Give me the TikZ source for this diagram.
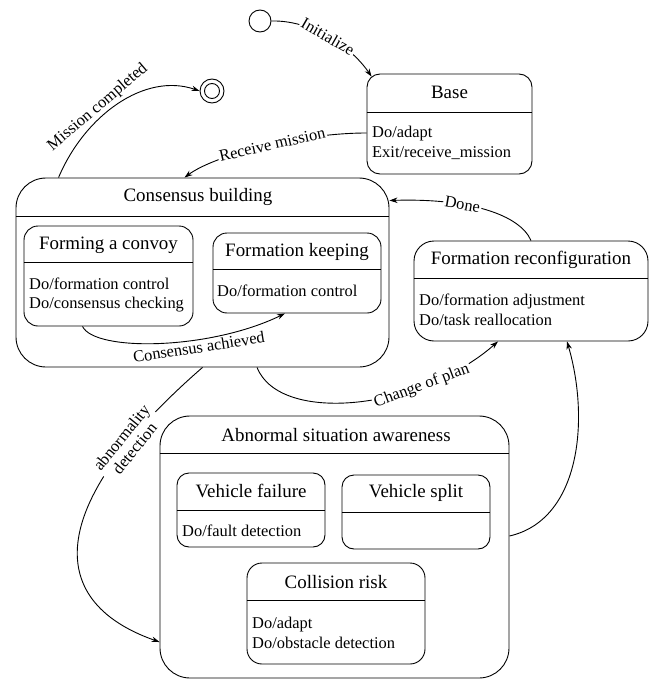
\documentclass[tikz,border=0pt]{standalone}
\usepackage{fontspec}
\setmainfont{Liberation Serif}
\usetikzlibrary{positioning,arrows.meta,fit,calc}
\tikzset{
  statebox/.style={draw, line width=0.9bp, inner sep=0pt},
  statediv/.style={line width=0.9bp},
  statetitle/.style={font=\fontsize{19}{22}\selectfont, inner sep=0pt},
  statebody/.style={font=\fontsize{16.5}{20}\selectfont, align=left, anchor=west, inner sep=0pt},
  pseudostate/.style={circle, draw, line width=0.9bp, inner sep=0pt},
  transition/.style={-{Stealth[length=8bp,width=5.5bp]}, line width=0.9bp},
  translabel/.style={font=\fontsize{16.5}{17}\selectfont, fill=white, inner sep=1.5bp, sloped},
}

\begin{document}
\begin{tikzpicture}[x=1bp, y=-1bp]
  \useasboundingbox (0,0) rectangle (653,679);

  % pseudo states
  \node[pseudostate, minimum size=22bp] (init) at (260,21) {};
  \node[pseudostate, minimum size=24bp] (final) at (212,91) {};
  \node[pseudostate, minimum size=15bp] (finalin) at (final) {};

  % Base
  \node[statebox, rounded corners=13bp, fit={(367,74) (532,174)}] (base) {};
  \draw[statediv] (base.west |- 0,112) -- (base.east |- 0,112);
  \node[statetitle] (basetitle) at (449.5,92) {Base};
  \node[statebody] (basebody) at (372,143) {Do/adapt\\Exit/receive\_mission};

  % Consensus building and its sub states
  \node[statebox, rounded corners=30bp, fit={(16,178) (389,367)}] (cb) {};
  \draw[statediv] (cb.west |- 0,216) -- (cb.east |- 0,216);
  \node[statetitle] (cbtitle) at (198,197) {Consensus building};

  \node[statebox, rounded corners=14bp, fit={(24,226) (193,326)}] (fc) {};
  \draw[statediv] (fc.west |- 0,262) -- (fc.east |- 0,262);
  \node[statetitle] (fctitle) at (108.5,245) {Forming a convoy};
  \node[statebody] (fcbody) at (29,295) {Do/formation control\\Do/consensus checking};

  \node[statebox, rounded corners=14bp, fit={(213,233) (381,313)}] (fk) {};
  \draw[statediv] (fk.west |- 0,269) -- (fk.east |- 0,269);
  \node[statetitle] (fktitle) at (297,252) {Formation keeping};
  \node[statebody] (fkbody) at (217,291) {Do/formation control};

  % Formation reconfiguration
  \node[statebox, rounded corners=20bp, fit={(414,241) (648,341)}] (fr) {};
  \draw[statediv] (fr.west |- 0,278) -- (fr.east |- 0,278);
  \node[statetitle] (frtitle) at (531,260) {Formation reconfiguration};
  \node[statebody] (frbody) at (419,310) {Do/formation adjustment\\Do/task reallocation};

  % Abnormal situation awareness and its sub states
  \node[statebox, rounded corners=30bp, fit={(160,416) (509,678)}] (ab) {};
  \draw[statediv] (ab.west |- 0,453) -- (ab.east |- 0,453);
  \node[statetitle] (abtitle) at (336,435) {Abnormal situation awareness};

  \node[statebox, rounded corners=12bp, fit={(177,473) (325,547)}] (vf) {};
  \draw[statediv] (vf.west |- 0,510) -- (vf.east |- 0,510);
  \node[statetitle] (vftitle) at (251,491) {Vehicle failure};
  \node[statebody] (vfbody) at (182,531) {Do/fault detection};

  \node[statebox, rounded corners=12bp, fit={(342,475) (490,549)}] (vs) {};
  \draw[statediv] (vs.west |- 0,512) -- (vs.east |- 0,512);
  \node[statetitle] (vstitle) at (416,493) {Vehicle split};

  \node[statebox, rounded corners=15bp, fit={(247,563) (425,664)}] (cr) {};
  \draw[statediv] (cr.west |- 0,600) -- (cr.east |- 0,600);
  \node[statetitle] (crtitle) at (336,582) {Collision risk};
  \node[statebody] (crbody) at (252,633) {Do/adapt\\Do/obstacle detection};

  % transitions
  \draw[transition] (init.east) .. controls (310,20) and (350,45) .. ([xshift=5bp,yshift=-3bp]base.north west)
    node[translabel, pos=0.5] {Initialize};
  \draw[transition] ([yshift=-9bp]base.west) .. controls (300,133) and (215,155) .. ([xshift=-18bp]cb.north)
    node[translabel, pos=0.45] {Receive mission};
  \draw[transition] ([xshift=43bp]cb.north west) .. controls (85,115) and (145,72) .. (final.west)
    node[translabel, fill=none, pos=0.4, above] {Mission completed};
  \draw[transition] (fr.north) .. controls (520,215) and (470,198) .. ([yshift=72bp]cb.east)
    node[translabel, pos=0.65] {Done};
  \draw[transition] ([xshift=-26bp]fc.south) .. controls (95,352) and (210,350) .. ([xshift=-12bp]fk.south)
    node[translabel, fill=none, pos=0.65, below] {Consensus achieved};
  \draw[transition] ([xshift=54.5bp]cb.south) .. controls (280,425) and (420,410) .. ([xshift=-33bp]fr.south)
    node[translabel, pos=0.72] {Change of plan};
  \draw[transition] (cb.south) .. controls (50,500) and (40,600) .. ([yshift=-95bp]ab.west)
    node[translabel, align=center, pos=0.2] {abnormality\\detection};
  \draw[transition] ([yshift=11bp]ab.east) .. controls (580,520) and (590,420) .. ([xshift=36bp]fr.south);
\end{tikzpicture}
\end{document}
